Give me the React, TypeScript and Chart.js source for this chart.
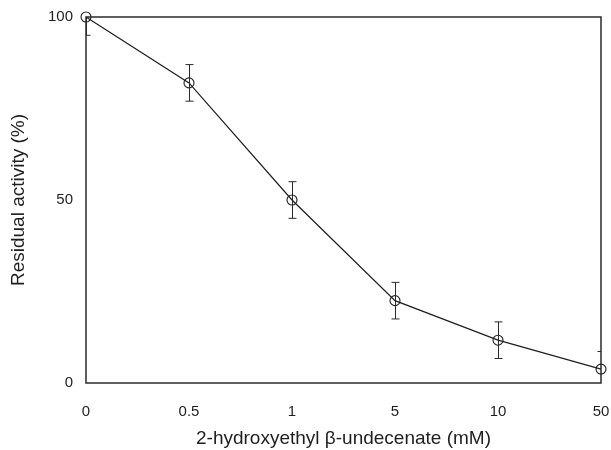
import React, { useEffect, useRef } from "react";
import { Chart, registerables } from "chart.js";

Chart.register(...registerables);

const concentrations = ["0", "0.5", "1", "5", "10", "50"];
const residualActivity = [100, 82, 50, 22.5, 11.7, 3.8];
const errorValues = [5, 5, 5, 5, 5, 4.8];
const yTicks = [0, 50, 100];

const FONT = "'Liberation Sans', Arial, sans-serif";
const INK = "#1e1e1e";

const errorBarPlugin = {
  id: "errorBars",
  afterDatasetsDraw(chart: any) {
    const { ctx, chartArea, scales } = chart;
    const meta = chart.getDatasetMeta(0);
    ctx.save();
    ctx.beginPath();
    ctx.rect(chartArea.left, chartArea.top, chartArea.right - chartArea.left, chartArea.bottom - chartArea.top);
    ctx.clip();
    ctx.strokeStyle = "#2a2a2a";
    ctx.lineWidth = 1;
    meta.data.forEach((pt: any, i: number) => {
      const v = residualActivity[i];
      const e = errorValues[i];
      const yTop = scales.y.getPixelForValue(v + e);
      const yBot = scales.y.getPixelForValue(v - e);
      const x = Math.round(pt.x) + 0.5;
      ctx.beginPath();
      ctx.moveTo(x, yTop);
      ctx.lineTo(x, yBot);
      ctx.moveTo(x - 4, yTop);
      ctx.lineTo(x + 4, yTop);
      ctx.moveTo(x - 4, yBot);
      ctx.lineTo(x + 4, yBot);
      ctx.stroke();
    });
    ctx.restore();
  },
};

const frameBoxPlugin = {
  id: "frameBox",
  afterDraw(chart: any) {
    const { ctx, chartArea } = chart;
    ctx.save();
    ctx.strokeStyle = "#2a2a2a";
    ctx.lineWidth = 1.5;
    ctx.strokeRect(chartArea.left, chartArea.top, chartArea.right - chartArea.left, chartArea.bottom - chartArea.top);
    ctx.restore();
  },
};

export default function App() {
  const canvasRef = useRef<HTMLCanvasElement | null>(null);

  useEffect(() => {
    if (!canvasRef.current) return;
    const chart = new Chart(canvasRef.current, {
      type: "line",
      data: {
        labels: concentrations,
        datasets: [
          {
            data: residualActivity,
            borderColor: INK,
            borderWidth: 1.2,
            backgroundColor: "rgba(0,0,0,0)",
            pointRadius: 5,
            pointBorderWidth: 1.1,
            pointBorderColor: INK,
            pointBackgroundColor: "rgba(0,0,0,0)",
            tension: 0,
            clip: false as any,
          },
        ],
      },
      options: {
        animation: false,
        responsive: false,
        maintainAspectRatio: false,
        layout: { padding: { left: 0, right: 10, top: 17, bottom: 0 } },
        plugins: {
          legend: { display: false },
          tooltip: { enabled: false },
        },
        scales: {
          x: {
            type: "category",
            offset: false,
            grid: { display: false, drawTicks: false },
            border: { display: false },
            ticks: {
              padding: 20,
              color: INK,
              font: { family: FONT, size: 15 },
              maxRotation: 0,
              autoSkip: false,
            },
            title: {
              display: true,
              text: "2-hydroxyethyl β-undecenate (mM)",
              color: INK,
              font: { family: FONT, size: 19 },
              padding: { top: 0, bottom: 0 },
            },
            afterFit(scale: any) {
              scale.height = 67;
              scale.paddingLeft = 0;
              scale.paddingRight = 0;
            },
          },
          y: {
            min: 0,
            max: 100,
            grid: { display: false, drawTicks: false },
            border: { display: false },
            afterBuildTicks(scale: any) {
              scale.ticks = yTicks.map((v) => ({ value: v }));
            },
            ticks: {
              padding: 13,
              color: INK,
              font: { family: FONT, size: 15 },
            },
            title: {
              display: true,
              text: "Residual activity (%)",
              color: INK,
              font: { family: FONT, size: 19 },
              padding: { top: 7, bottom: 0 },
            },
            afterFit(scale: any) {
              scale.width = 86;
              scale.paddingTop = 0;
              scale.paddingBottom = 0;
            },
          },
        },
      },
      plugins: [errorBarPlugin, frameBoxPlugin],
    });
    return () => chart.destroy();
  }, []);

  return (
    <div style={{ position: "fixed", left: 0, top: 0, width: 611, height: 450, background: "#fff" }}>
      <canvas ref={canvasRef} width={611} height={450} style={{ width: 611, height: 450 }} />
    </div>
  );
}
